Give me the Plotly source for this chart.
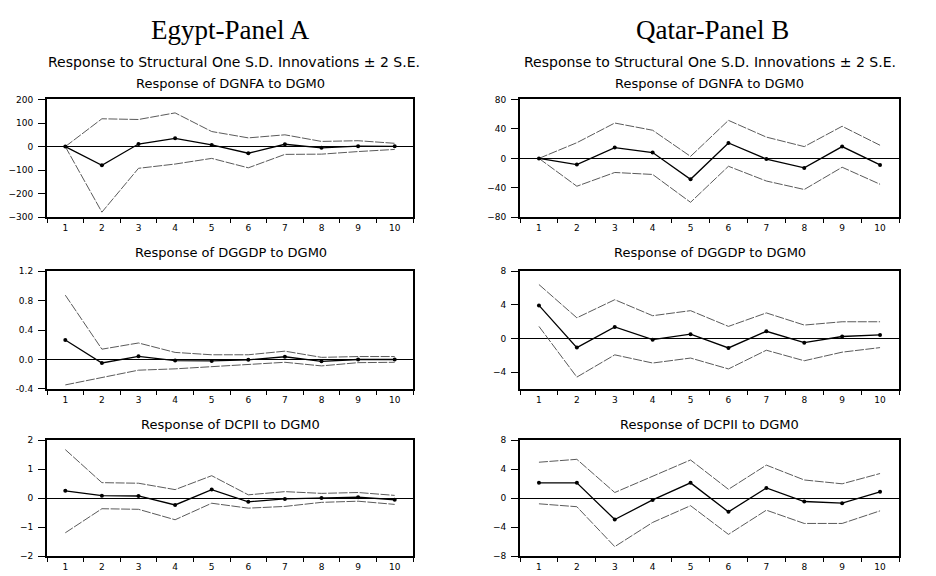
import plotly.graph_objects as go

# The page body adds an 8px margin, so the figure is sized to fit the window
OFF = 8
W, H = 936 - OFF, 576 - OFF

periods = ["1", "2", "3", "4", "5", "6", "7", "8", "9", "10"]

# Egypt - Panel A
eg_dgnfa = [0, -79, 11, 35, 7, -28, 10, -5, 2, 1]
eg_dgnfa_up = [0, 118, 115, 143, 64, 37, 50, 22, 25, 14]
eg_dgnfa_lo = [0, -278, -92, -74, -50, -90, -33, -32, -21, -12]

eg_dggdp = [0.264, -0.047, 0.043, -0.015, -0.02, -0.005, 0.037, -0.025, 0.0, 0.0]
eg_dggdp_up = [0.873, 0.14, 0.224, 0.096, 0.064, 0.064, 0.113, 0.029, 0.04, 0.04]
eg_dggdp_lo = [-0.345, -0.24, -0.145, -0.127, -0.10, -0.07, -0.038, -0.087, -0.043, -0.038]

eg_dcpii = [0.26, 0.09, 0.08, -0.23, 0.30, -0.12, -0.02, 0.01, 0.04, -0.05]
eg_dcpii_up = [1.68, 0.54, 0.52, 0.30, 0.78, 0.12, 0.23, 0.17, 0.20, 0.10]
eg_dcpii_lo = [-1.19, -0.36, -0.38, -0.74, -0.17, -0.34, -0.28, -0.14, -0.10, -0.21]

# Qatar - Panel B
qa_dgnfa = [0, -8.4, 14.7, 8, -28.4, 20.9, -0.9, -12.9, 16, -8.9]
qa_dgnfa_up = [0, 21.3, 48, 38.2, 2.7, 51.6, 28.9, 16, 43.6, 17.8]
qa_dgnfa_lo = [0, -37.8, -19.1, -21.8, -59.6, -10.7, -30.7, -42.2, -12, -35.1]

qa_dggdp = [3.92, -1.09, 1.36, -0.15, 0.5, -1.13, 0.85, -0.5, 0.23, 0.42]
qa_dggdp_up = [6.4, 2.45, 4.6, 2.7, 3.3, 1.43, 3.03, 1.59, 1.98, 1.98]
qa_dggdp_lo = [1.43, -4.59, -1.95, -2.92, -2.33, -3.62, -1.4, -2.65, -1.63, -1.09]

qa_dcpii = [2.13, 2.13, -2.93, -0.22, 2.13, -1.87, 1.42, -0.44, -0.67, 0.89]
qa_dcpii_up = [4.98, 5.38, 0.8, 3.02, 5.29, 1.24, 4.58, 2.53, 2.0, 3.42]
qa_dcpii_lo = [-0.76, -1.16, -6.67, -3.33, -1.02, -4.98, -1.64, -3.47, -3.47, -1.73]

panel_titles = ["Egypt-Panel A", "Qatar-Panel B"]
main_title = "Response to Structural One S.D. Innovations \u00b1 2 S.E."
row_titles = ["Response of DGNFA to DGM0", "Response of DGGDP to DGM0", "Response of DCPII to DGM0"]


def px(x):
    return (x - OFF) / W


def py(y):
    return 1 - (y - OFF) / H


# layout geometry (screen pixels)
col_x = [(47, 413), (520, 899)]
row_y = [(96, 216), (270.7, 390.7), (443, 561)]

panels = [
    (0, 0, eg_dgnfa, eg_dgnfa_up, eg_dgnfa_lo, [-300, 200], [-300, -200, -100, 0, 100, 200], None),
    (0, 1, eg_dggdp, eg_dggdp_up, eg_dggdp_lo, [-0.4, 1.2], [-0.4, 0.0, 0.4, 0.8, 1.2],
     ["-0.4", "0.0", "0.4", "0.8", "1.2"]),
    (0, 2, eg_dcpii, eg_dcpii_up, eg_dcpii_lo, [-2, 2], [-2, -1, 0, 1, 2], None),
    (1, 0, qa_dgnfa, qa_dgnfa_up, qa_dgnfa_lo, [-80, 80], [-80, -40, 0, 40, 80], None),
    (1, 1, qa_dggdp, qa_dggdp_up, qa_dggdp_lo, [-6, 8], [-4, 0, 4, 8], None),
    (1, 2, qa_dcpii, qa_dcpii_up, qa_dcpii_lo, [-8, 8], [-8, -4, 0, 4, 8], None),
]

fig = go.Figure()
tick_font = dict(family="DejaVu Sans, Arial", size=9, color="black")
layout = {}
for i, (c, r, cen, up, lo, yr, tv, tt) in enumerate(panels):
    n = "" if i == 0 else str(i + 1)
    xa, ya = "x" + n, "y" + n
    band_style = dict(color="#5a5a5a", width=1, dash="9px,1.5px")
    fig.add_trace(go.Scatter(x=periods, y=up, mode="lines", line=band_style,
                             xaxis=xa, yaxis=ya, showlegend=False, hoverinfo="skip"))
    fig.add_trace(go.Scatter(x=periods, y=lo, mode="lines", line=band_style,
                             xaxis=xa, yaxis=ya, showlegend=False, hoverinfo="skip"))
    fig.add_trace(go.Scatter(x=periods, y=cen, mode="lines+markers",
                             line=dict(color="black", width=1.3),
                             marker=dict(color="black", size=4),
                             xaxis=xa, yaxis=ya, showlegend=False))
    x0, x1 = col_x[c]
    y0, y1 = row_y[r]
    layout["xaxis" + n] = dict(
        domain=[px(x0), px(x1)], anchor=ya, type="category",
        range=[-0.5, len(periods) - 0.5],
        tickson="boundaries", ticks="outside", ticklen=4, tickcolor="black",
        ticklabelstandoff=1,
        showline=True, linecolor="black", linewidth=2, mirror=True,
        showgrid=False, zeroline=False, tickfont=tick_font, fixedrange=True,
    )
    ydict = dict(
        domain=[py(y1), py(y0)], anchor=xa, range=yr,
        tickvals=tv, ticks="outside", ticklen=7, tickcolor="black",
        ticklabelstandoff=3,
        showline=True, linecolor="black", linewidth=2, mirror=True,
        showgrid=False, zeroline=True, zerolinecolor="black", zerolinewidth=1.3,
        tickfont=tick_font, fixedrange=True,
    )
    if tt is not None:
        ydict["ticktext"] = tt
    layout["yaxis" + n] = ydict

annotations = []
col_centers = [230.5, 709.5]
for c in range(2):
    annotations.append(dict(text=panel_titles[c], x=px([230, 712][c]), y=py(25),
                            xref="paper", yref="paper", showarrow=False,
                            xanchor="center", yanchor="middle",
                            font=dict(family="Liberation Serif, Times New Roman", size=27, color="black")))
    annotations.append(dict(text=main_title, x=px([234, 710][c]), y=py(58),
                            xref="paper", yref="paper", showarrow=False,
                            xanchor="center", yanchor="middle",
                            font=dict(family="DejaVu Sans, Arial", size=14, color="black")))
    for r, ty in enumerate([80, 252, 427]):
        annotations.append(dict(text=row_titles[r], x=px(col_centers[c]), y=py(ty),
                                xref="paper", yref="paper", showarrow=False,
                                xanchor="center", yanchor="middle",
                                font=dict(family="DejaVu Sans, Arial", size=13, color="black")))

fig.update_layout(
    width=W, height=H,
    margin=dict(l=0, r=0, t=0, b=0),
    paper_bgcolor="white", plot_bgcolor="white",
    annotations=annotations,
    **layout,
)

fig.write_html("out.html", config={"displayModeBar": False})
